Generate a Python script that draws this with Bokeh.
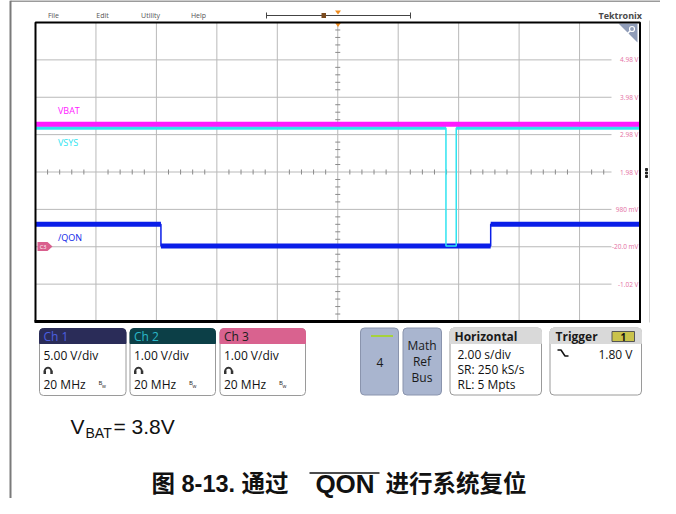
import math
from bokeh.plotting import figure
from bokeh.models import Range1d
from bokeh.core.properties import value
from bokeh.embed import file_html
from bokeh.resources import INLINE

# ---------------- data ----------------
# time in seconds (2.00 s/div, 10 divisions), voltage on the displayed 1 V/div scale
vbat_t = [-10.0, 10.0]
vbat_v = [3.26, 3.26]
vsys_t = [-10.0, 3.58, 3.58, 3.92, 3.92, 10.0]
vsys_v = [3.16, 3.16, 0.0, 0.0, 3.16, 3.16]
qon_t = [-10.0, -5.85, -5.85, 5.06, 5.06, 10.0]
qon_v = [0.58, 0.58, 0.0, 0.0, 0.58, 0.58]

time_grid = [-10, -8, -6, -4, -2, 0, 2, 4, 6, 8, 10]
volt_grid = [5.98, 4.98, 3.98, 2.98, 1.98, 0.98, -0.02, -1.02, -2.02]
volt_ticks = [4.98, 3.98, 2.98, 1.98, 0.98, -0.02, -1.02]
volt_labels = ["4.98 V", "3.98 V", "2.98 V", "1.98 V", "980 mV", "-20.0 mV", "-1.02 V"]

trace_names = ["VBAT", "VSYS", "/QON"]
trace_colors = ["#ff1aff", "#30e4f0", "#0a1ee8"]

menu_items = ["File", "Edit", "Utility", "Help"]
channel_names = ["Ch 1", "Ch 2", "Ch 3"]
channel_scales = ["5.00 V/div", "1.00 V/div", "1.00 V/div"]
channel_bw = ["20 MHz", "20 MHz", "20 MHz"]
horizontal_lines = ["2.00 s/div", "SR: 250 kS/s", "RL: 5 Mpts"]
trigger_level = "1.80 V"
vbat_note = ("V", "BAT", "= 3.8V")
caption_parts = ("图 8-13. 通过", "QON", "进行系统复位")

# ---------------- layout (screen pixels) ----------------
W, H = 660, 498
X0, X1, Y0, Y1 = 35.0, 639.5, 22.0, 321.0          # scope graticule
ppt = (X1 - X0) / 20.0
ppv = (Y1 - Y0) / 8.0
t_start = -10 - X0 / ppt
t_end = 10 + (W - X1) / ppt
v_top = 5.98 + Y0 / ppv
v_bot = -2.02 - (H - Y1) / ppv

p = figure(width=W, height=H, x_range=Range1d(0, W), y_range=Range1d(H, 0),
           output_backend="svg", toolbar_location=None, min_border=0,
           x_axis_type=None, y_axis_type=None, outline_line_color=None,
           background_fill_color="white", border_fill_color="white")
p.grid.visible = False
p.extra_x_ranges = {"t": Range1d(t_start, t_end)}
p.extra_y_ranges = {"v": Range1d(v_bot, v_top)}

UI = value("Open Sans")
SANS = value("Liberation Sans")
MIXED = value("Liberation Sans, Noto Sans CJK SC")

# page frame lines
p.segment(x0=[10], y0=[0], x1=[10], y1=[H], line_color="#7a7a7a", line_width=2)
p.segment(x0=[10], y0=[0.5], x1=[W], y1=[0.5], line_color="#7a7a7a", line_width=1.5)

# menu bar
p.text(x=[53, 102, 150, 198], y=[15] * 4, text=menu_items, text_font=UI,
       text_font_size="7px", text_color="#555555", text_align="center", text_baseline="middle")
p.segment(x0=[266], y0=[15], x1=[410], y1=[15], line_color="#444444", line_width=1)
p.segment(x0=[266, 410], y0=[12, 12], x1=[266, 410], y1=[18, 18], line_color="#444444", line_width=1)
p.quad(left=[321], right=[325.5], top=[12.5], bottom=[17.5], fill_color="#7a4a1e", line_color=None)
p.patch([334.5, 340.5, 337.5], [10, 10, 14], fill_color="#f08c1e", line_color=None)
p.text(x=[598], y=[15], text=["Tektronix"], text_font=UI, text_font_style="bold",
       text_font_size="9px", text_color="#4a4a4a", text_baseline="middle")

# graticule
grid_col = "#b9b9b9"
p.segment(x0=time_grid[1:-1], y0=[Y0] * 9, x1=time_grid[1:-1], y1=[Y1] * 9,
          x_range_name="t", line_color=grid_col, line_width=1)
p.segment(x0=[X0] * 7, y0=volt_grid[1:-1], x1=[611] * 7, y1=volt_grid[1:-1],
          y_range_name="v", line_color=grid_col, line_width=1)
yc = Y0 + 4 * ppv
xc = (X0 + X1) / 2
minor_t = [-10 + 0.4 * k for k in range(1, 48) if k % 5]
minor_v = [-2.02 + 0.2 * k for k in range(1, 40) if k % 5]
p.segment(x0=minor_t, y0=[yc - 2.5] * len(minor_t), x1=minor_t, y1=[yc + 2.5] * len(minor_t),
          x_range_name="t", line_color="#8a8a8a", line_width=1)
p.segment(x0=[xc - 2.5] * len(minor_v), y0=minor_v, x1=[xc + 2.5] * len(minor_v), y1=minor_v,
          y_range_name="v", line_color="#8a8a8a", line_width=1)
p.text(x=[638] * 7, y=volt_ticks, text=volt_labels, y_range_name="v", text_font=UI,
       text_font_size="6.5px", text_color="#e46fa3", text_align="right", text_baseline="middle")

# corner zoom tab and trigger marker
p.patch([618, 637, 637], [23, 23, 42], fill_color="#8f9cb8", line_color=None)
p.scatter(x=[631.5], y=[28.5], size=5, marker="circle", fill_color=None, line_color="white", line_width=1.2)
p.segment(x0=[629.5], y0=[30.5], x1=[626.5], y1=[33.5], line_color="white", line_width=1.5)
p.patch([334, 341, 337.5], [21.5, 21.5, 26.5], fill_color="#f08c1e", line_color=None)

# traces
def flat_parts(ts, vs):
    xs, ys = [], []
    for i in range(len(ts) - 1):
        if vs[i] == vs[i + 1]:
            xs.append([ts[i], ts[i + 1]])
            ys.append([vs[i], vs[i + 1]])
    return xs, ys

qx, qy = flat_parts(qon_t, qon_v)
p.line(qon_t, qon_v, x_range_name="t", y_range_name="v", line_color=trace_colors[2], line_width=1.5)
p.multi_line(qx, qy, x_range_name="t", y_range_name="v", line_color=trace_colors[2], line_width=5)
sx, sy = flat_parts(vsys_t, vsys_v)
p.line(vsys_t, vsys_v, x_range_name="t", y_range_name="v", line_color=trace_colors[1], line_width=1.5)
p.multi_line([sx[0], sx[2]], [sy[0], sy[2]], x_range_name="t", y_range_name="v",
             line_color=trace_colors[1], line_width=3.5)
p.line(vbat_t, vbat_v, x_range_name="t", y_range_name="v", line_color=trace_colors[0], line_width=5)

# trace labels and ground marker
p.text(x=[57.5] * 3, y=[110, 141.5, 237], text=trace_names, text_font=UI, text_font_size="9px",
       text_color=trace_colors, text_baseline="middle")
p.patch([37, 47, 52, 47, 37], [241.5, 241.5, 246, 250.5, 250.5], fill_color="#d9608e", line_color=None)
p.text(x=[42.5], y=[246], text=["C3"], text_font=UI, text_font_size="5.5px", text_color="white",
       text_align="center", text_baseline="middle")

# graticule border
p.quad(left=[X0], right=[X1], top=[Y0], bottom=[Y1], fill_color=None, line_color="black", line_width=2)
p.segment(x0=[X0 - 1], y0=[Y1], x1=[X1 + 1], y1=[Y1], line_color="black", line_width=3)
p.segment(x0=[649], y0=[20], x1=[649], y1=[322], line_color="#d4d4d4", line_width=1)
p.scatter(x=[646] * 3, y=[169, 172.5, 176], size=2, marker="square", color="#222222")

# channel badges
ch_left = [39, 129.5, 219.5]
ch_right = [125.5, 215, 305]
hdr_fill = ["#2a2c58", "#0c3f47", "#d9628f"]
hdr_text = ["#4c5fe0", "#2bb8c8", "#202020"]
BT, BB, HB = 328, 395, 343
p.quad(left=ch_left, right=ch_right, top=[BT] * 3, bottom=[BB] * 3, fill_color="white",
       line_color="#9a9a9a", line_width=1, border_radius=4)
p.quad(left=ch_left, right=ch_right, top=[BT] * 3, bottom=[HB] * 3, fill_color=hdr_fill,
       line_color=hdr_fill, line_width=1, border_radius=(4, 4, 0, 0))
p.text(x=[l + 4 for l in ch_left], y=[335.5] * 3, text=channel_names, text_font=UI,
       text_font_size="12px", text_color=hdr_text, text_baseline="middle")
p.text(x=[l + 4 for l in ch_left], y=[354.5] * 3, text=channel_scales, text_font=UI,
       text_font_size="12px", text_color="#111111", text_baseline="middle")
p.text(x=[l + 4 for l in ch_left], y=[384] * 3, text=channel_bw, text_font=UI,
       text_font_size="12px", text_color="#111111", text_baseline="middle")
p.text(x=[l + 59 for l in ch_left], y=[382] * 3, text=["B"] * 3, text_font=UI,
       text_font_size="6px", text_color="#222222", text_baseline="middle")
p.text(x=[l + 62.5 for l in ch_left], y=[385] * 3, text=["w"] * 3, text_font=UI,
       text_font_size="5px", text_color="#222222", text_baseline="middle")
# probe icons: a small arch with two feet
arch_x, arch_y = [], []
for l in ch_left:
    cx, cy, r = l + 8.5, 370.5, 3.3
    arch_x.append([cx + r * math.cos(math.pi * k / 10) for k in range(10, -1, -1)])
    arch_y.append([cy - r * math.sin(math.pi * k / 10) for k in range(10, -1, -1)])
p.multi_line(arch_x, arch_y, line_color="#333333", line_width=1.8)
p.quad(left=[l + 4 for l in ch_left] + [l + 10.8 for l in ch_left],
       right=[l + 6.5 for l in ch_left] + [l + 13.3 for l in ch_left],
       top=[370] * 6, bottom=[373.5] * 6, fill_color="#333333", line_color=None)

# "4" and Math/Ref/Bus buttons
p.quad(left=[360, 402.5], right=[398, 441], top=[327.5] * 2, bottom=[394.5] * 2,
       fill_color="#a9b5cf", line_color="#8a94ad", line_width=1, border_radius=4)
p.segment(x0=[370.5], y0=[335.5], x1=[392.5], y1=[335.5], line_color="#a6d23c", line_width=2)
p.text(x=[379.5], y=[362], text=["4"], text_font=UI, text_font_size="12px", text_color="#1a1a1a",
       text_align="center", text_baseline="middle")
p.text(x=[421.5] * 3, y=[345, 361, 377], text=["Math", "Ref", "Bus"], text_font=UI,
       text_font_size="12px", text_color="#1a1a1a", text_align="center", text_baseline="middle")

# Horizontal and Trigger badges
bl = [449.5, 549.5]
br = [541, 641]
p.quad(left=bl, right=br, top=[327.5] * 2, bottom=[394.5] * 2, fill_color="white",
       line_color="#9a9a9a", line_width=1, border_radius=4)
p.quad(left=bl, right=br, top=[327.5] * 2, bottom=[343] * 2, fill_color="#d9d9d9",
       line_color="#d9d9d9", line_width=1, border_radius=(4, 4, 0, 0))
p.text(x=[454, 555], y=[335.5] * 2, text=["Horizontal", "Trigger"], text_font=UI,
       text_font_style="bold", text_font_size="12px", text_color="#1a1a1a", text_baseline="middle")
p.text(x=[457] * 3, y=[354, 368.5, 383.5], text=horizontal_lines, text_font=UI,
       text_font_size="12px", text_color="#111111", text_baseline="middle")
p.quad(left=[611.5], right=[634], top=[331], bottom=[341], fill_color="#c9c24a",
       line_color="#555555", line_width=1)
p.text(x=[622.8], y=[336], text=["1"], text_font=UI, text_font_style="bold", text_font_size="10px",
       text_color="#111111", text_align="center", text_baseline="middle")
p.line(x=[557, 560.5, 564.5, 568], y=[349.5, 349.5, 355.5, 355.5], line_color="#111111", line_width=1.5)
p.text(x=[632], y=[353.5], text=[trigger_level], text_font=UI, text_font_size="12px",
       text_color="#111111", text_align="right", text_baseline="middle")

# VBAT note
p.text(x=[70], y=[425.5], text=[vbat_note[0]], text_font=SANS, text_font_size="21px",
       text_color="#111111", text_baseline="middle")
p.text(x=[85], y=[432], text=[vbat_note[1]], text_font=SANS, text_font_size="14px",
       text_color="#111111", text_baseline="middle")
p.text(x=[113], y=[425.5], text=[vbat_note[2]], text_font=SANS, text_font_size="21px",
       text_color="#111111", text_baseline="middle")

# caption
p.text(x=[151], y=[483.5], text=[caption_parts[0]], text_font=MIXED, text_font_style="bold",
       text_font_size="23.5px", text_color="#111111", text_baseline="middle")
p.text(x=[344.5], y=[483.5], text=[caption_parts[1]], text_font=SANS, text_font_style="bold",
       text_font_size="26px", text_color="#111111", text_align="center", text_baseline="middle")
p.text(x=[385], y=[483.5], text=[caption_parts[2]], text_font=MIXED, text_font_style="bold",
       text_font_size="23.5px", text_color="#111111", text_baseline="middle")
p.segment(x0=[309], y0=[472.5], x1=[379], y1=[472.5], line_color="#111111", line_width=1.5)

open("out.html", "w").write(file_html(p, INLINE))
